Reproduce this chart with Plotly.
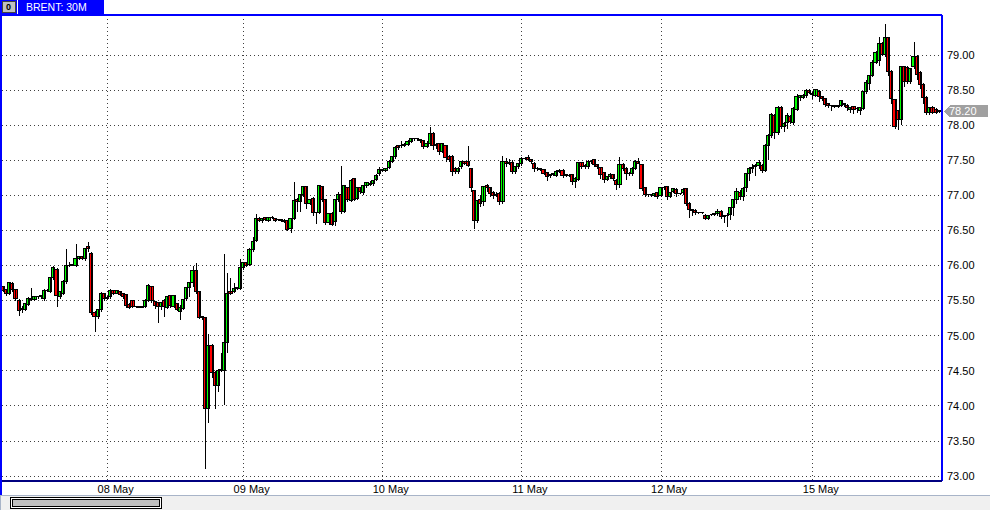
import plotly.graph_objects as go

# BRENT 30-minute bars (one row per trading session)
sessions = ["", "08 May", "09 May", "10 May", "11 May", "12 May", "15 May"]

opens = [
    75.69, 75.65, 75.60, 75.74, 75.65, 75.50, 75.36, 75.37, 75.44, 75.51, 75.51, 75.55, 75.55, 75.52, 75.64, 75.63, 75.82, 75.94, 75.55, 75.60, 75.76, 75.99, 76.00, 76.00, 76.10, 76.12, 76.09, 76.26, 76.17, 75.33, 75.26, 75.36, 75.59,
    75.53, 75.55, 75.64, 75.60, 75.63, 75.59, 75.58, 75.44, 75.49, 75.41, 75.41, 75.40, 75.41, 75.50, 75.69, 75.48, 75.46, 75.41, 75.50, 75.40, 75.56, 75.41, 75.45, 75.34, 75.38, 75.52, 75.68, 75.75, 75.92, 75.62, 75.25, 75.25, 73.95, 74.85, 74.47, 74.28, 74.50, 74.50, 74.90, 75.63, 75.63, 75.67, 75.67,
    75.96, 76.03, 76.01, 76.22, 76.35, 76.66, 76.64, 76.68, 76.64, 76.68, 76.67, 76.65, 76.65, 76.64, 76.64, 76.52, 76.67, 76.93, 76.90, 77.00, 77.12, 76.88, 76.95, 76.75, 76.75, 77.12, 76.93, 76.60, 76.73, 76.62, 76.93, 77.00, 76.77, 77.10, 76.92, 77.23, 76.95, 77.10, 77.03, 77.13, 77.16, 77.16, 77.22, 77.30,
    77.36, 77.35, 77.39, 77.48, 77.54, 77.70, 77.70, 77.71, 77.72, 77.76, 77.80, 77.80, 77.79, 77.77, 77.69, 77.73, 77.87, 77.72, 77.73, 77.62, 77.70, 77.55, 77.55, 77.37, 77.33, 77.40, 77.47, 77.47, 77.37, 77.06, 76.64, 76.93, 76.90, 77.13, 77.10, 77.04, 76.99, 77.02, 76.90, 77.47, 77.45, 77.46, 77.33, 77.40,
    77.44, 77.52, 77.53, 77.50, 77.45, 77.37, 77.37, 77.36, 77.32, 77.27, 77.29, 77.28, 77.34, 77.35, 77.28, 77.28, 77.29, 77.19, 77.22, 77.46, 77.41, 77.40, 77.47, 77.50, 77.43, 77.39, 77.32, 77.22, 77.26, 77.29, 77.21, 77.15, 77.43, 77.37, 77.30, 77.31, 77.38, 77.48, 77.43, 77.10, 77.00, 77.00, 76.99, 77.03,
    76.99, 77.11, 77.12, 76.98, 77.05, 77.08, 77.02, 77.03, 77.09, 76.88, 76.79, 76.78, 76.75, 76.75, 76.71, 76.67, 76.72, 76.72, 76.73, 76.77, 76.69, 76.70, 76.72, 76.82, 76.93, 77.04, 76.97, 77.10, 77.30, 77.37, 77.40, 77.42, 77.42, 77.35, 77.70, 77.84, 78.13, 77.89, 78.25, 77.98, 78.03, 78.12, 78.03, 78.22, 78.39, 78.39, 78.41, 78.49,
    78.45, 78.42, 78.48, 78.40, 78.37, 78.30, 78.27, 78.27, 78.26, 78.28, 78.30, 78.28, 78.22, 78.26, 78.23, 78.20, 78.23, 78.47, 78.58, 78.70, 78.89, 78.92, 79.16, 79.00, 79.24, 78.76, 78.36, 78.20, 78.07, 78.83, 78.82, 78.62, 78.83, 78.97, 78.74, 78.57, 78.39, 78.17, 78.24, 78.22, 78.19,
]
highs = [
    75.71, 75.67, 75.77, 75.76, 75.67, 75.52, 75.42, 75.47, 75.55, 75.68, 75.56, 75.57, 75.58, 75.66, 75.66, 75.84, 75.99, 75.96, 75.64, 75.79, 76.24, 76.05, 76.02, 76.30, 76.14, 76.14, 76.25, 76.33, 76.19, 75.35, 75.38, 75.62, 75.61,
    75.56, 75.66, 75.65, 75.65, 75.64, 75.60, 75.60, 75.46, 75.51, 75.43, 75.42, 75.42, 75.52, 75.74, 75.71, 75.50, 75.48, 75.48, 75.53, 75.57, 75.58, 75.57, 75.47, 75.44, 75.53, 75.70, 75.77, 76.00, 76.04, 75.64, 75.28, 75.27, 75.02, 74.88, 74.50, 74.52, 74.75, 76.17, 75.90, 75.82, 75.75, 75.70, 76.09,
    76.05, 76.05, 76.25, 76.41, 76.73, 76.69, 76.68, 76.69, 76.69, 76.71, 76.68, 76.67, 76.66, 76.66, 76.65, 76.68, 77.19, 76.96, 77.02, 77.14, 77.14, 76.95, 76.97, 76.77, 77.15, 77.14, 76.95, 76.75, 76.76, 76.95, 77.05, 77.42, 77.15, 77.12, 77.23, 77.25, 77.12, 77.12, 77.15, 77.19, 77.20, 77.22, 77.30, 77.40,
    77.38, 77.39, 77.50, 77.56, 77.70, 77.72, 77.78, 77.74, 77.79, 77.82, 77.82, 77.82, 77.81, 77.79, 77.77, 77.97, 77.90, 77.74, 77.75, 77.75, 77.72, 77.57, 77.57, 77.40, 77.40, 77.49, 77.49, 77.70, 77.39, 77.08, 76.94, 77.00, 77.14, 77.16, 77.12, 77.06, 77.05, 77.05, 77.56, 77.53, 77.52, 77.50, 77.42, 77.46,
    77.54, 77.54, 77.58, 77.52, 77.47, 77.40, 77.39, 77.38, 77.34, 77.31, 77.32, 77.36, 77.37, 77.37, 77.30, 77.30, 77.31, 77.26, 77.48, 77.48, 77.44, 77.50, 77.50, 77.52, 77.45, 77.41, 77.34, 77.28, 77.32, 77.31, 77.23, 77.55, 77.46, 77.40, 77.34, 77.40, 77.50, 77.53, 77.45, 77.12, 77.02, 77.02, 77.03, 77.05,
    77.12, 77.13, 77.14, 77.05, 77.11, 77.10, 77.04, 77.11, 77.11, 76.90, 76.81, 76.80, 76.77, 76.77, 76.73, 76.72, 76.74, 76.75, 76.80, 76.79, 76.72, 76.75, 76.84, 76.95, 77.10, 77.07, 77.12, 77.32, 77.40, 77.44, 77.45, 77.50, 77.44, 77.73, 77.88, 78.18, 78.16, 78.27, 78.27, 78.05, 78.18, 78.14, 78.26, 78.45, 78.42, 78.45, 78.51, 78.51,
    78.47, 78.52, 78.50, 78.42, 78.39, 78.32, 78.29, 78.29, 78.29, 78.36, 78.32, 78.30, 78.26, 78.28, 78.26, 78.26, 78.49, 78.64, 78.72, 78.93, 79.06, 79.25, 79.18, 79.44, 79.26, 78.78, 78.38, 78.22, 78.85, 78.85, 78.84, 78.82, 79.18, 79.00, 78.77, 78.60, 78.42, 78.26, 78.27, 78.24, 78.21,
]
lows = [
    75.62, 75.56, 75.58, 75.63, 75.50, 75.28, 75.33, 75.35, 75.42, 75.49, 75.50, 75.53, 75.53, 75.50, 75.62, 75.61, 75.80, 75.41, 75.53, 75.58, 75.74, 75.98, 75.99, 75.98, 76.08, 76.08, 76.07, 76.20, 75.30, 75.05, 75.24, 75.34, 75.50,
    75.51, 75.53, 75.58, 75.59, 75.56, 75.52, 75.40, 75.38, 75.39, 75.39, 75.39, 75.39, 75.40, 75.48, 75.47, 75.38, 75.18, 75.36, 75.27, 75.38, 75.40, 75.39, 75.35, 75.22, 75.36, 75.50, 75.55, 75.70, 75.60, 75.24, 75.23, 73.10, 73.75, 74.40, 73.96, 74.20, 74.48, 74.01, 74.75, 75.58, 75.61, 75.65, 75.65,
    75.94, 75.98, 75.99, 76.20, 76.33, 76.62, 76.60, 76.63, 76.62, 76.66, 76.62, 76.63, 76.62, 76.60, 76.49, 76.47, 76.65, 76.76, 76.76, 76.98, 76.80, 76.86, 76.70, 76.59, 76.73, 76.90, 76.58, 76.58, 76.56, 76.56, 76.90, 76.74, 76.75, 76.90, 76.90, 76.92, 76.93, 77.02, 77.00, 77.11, 77.13, 77.14, 77.20, 77.28,
    77.33, 77.33, 77.37, 77.46, 77.52, 77.64, 77.68, 77.69, 77.70, 77.74, 77.78, 77.78, 77.74, 77.66, 77.67, 77.71, 77.64, 77.66, 77.58, 77.60, 77.48, 77.48, 77.28, 77.30, 77.30, 77.38, 77.43, 77.40, 77.05, 76.52, 76.60, 76.84, 76.85, 77.05, 76.98, 76.95, 76.97, 76.86, 76.88, 77.40, 77.43, 77.30, 77.31, 77.38,
    77.42, 77.50, 77.49, 77.45, 77.34, 77.35, 77.35, 77.29, 77.20, 77.25, 77.27, 77.26, 77.32, 77.25, 77.26, 77.26, 77.15, 77.10, 77.20, 77.38, 77.38, 77.38, 77.45, 77.41, 77.38, 77.24, 77.18, 77.20, 77.24, 77.20, 77.07, 77.10, 77.35, 77.22, 77.28, 77.27, 77.36, 77.44, 77.06, 76.97, 76.97, 76.98, 76.97, 76.95,
    76.97, 77.08, 76.93, 76.96, 77.03, 76.98, 77.00, 77.01, 76.85, 76.68, 76.70, 76.72, 76.73, 76.73, 76.65, 76.65, 76.70, 76.70, 76.71, 76.66, 76.60, 76.55, 76.65, 76.70, 76.88, 76.93, 76.92, 77.05, 77.20, 77.32, 77.28, 77.38, 77.32, 77.33, 77.50, 77.82, 77.80, 77.86, 77.95, 77.90, 77.95, 78.01, 78.00, 78.20, 78.35, 78.37, 78.39, 78.44,
    78.38, 78.40, 78.33, 78.34, 78.26, 78.24, 78.20, 78.24, 78.24, 78.26, 78.26, 78.20, 78.18, 78.16, 78.18, 78.15, 78.21, 78.45, 78.50, 78.68, 78.87, 78.85, 78.98, 78.97, 78.70, 78.30, 77.95, 77.93, 78.00, 78.55, 78.58, 78.58, 78.80, 78.65, 78.52, 78.30, 78.15, 78.15, 78.16, 78.16, 78.18,
]
closes = [
    75.64, 75.60, 75.75, 75.65, 75.52, 75.35, 75.38, 75.45, 75.52, 75.52, 75.55, 75.55, 75.56, 75.64, 75.64, 75.82, 75.96, 75.56, 75.62, 75.76, 75.99, 76.00, 76.00, 76.10, 76.12, 76.09, 76.23, 76.23, 75.33, 75.26, 75.36, 75.60, 75.53,
    75.54, 75.64, 75.60, 75.64, 75.58, 75.55, 75.42, 75.40, 75.41, 75.41, 75.40, 75.41, 75.50, 75.71, 75.49, 75.42, 75.41, 75.46, 75.41, 75.55, 75.42, 75.56, 75.37, 75.40, 75.51, 75.68, 75.75, 75.92, 75.62, 75.25, 75.27, 73.96, 74.86, 74.47, 74.28, 74.50, 74.51, 74.90, 75.60, 75.60, 75.67, 75.67, 75.96,
    76.03, 76.00, 76.22, 76.34, 76.67, 76.64, 76.67, 76.65, 76.68, 76.68, 76.64, 76.65, 76.63, 76.62, 76.51, 76.67, 76.92, 76.90, 77.00, 77.12, 76.88, 76.93, 76.75, 76.75, 77.13, 76.93, 76.60, 76.73, 76.58, 76.93, 77.00, 76.76, 77.13, 76.93, 77.21, 76.94, 77.10, 77.05, 77.13, 77.17, 77.15, 77.20, 77.28, 77.36,
    77.35, 77.37, 77.48, 77.54, 77.68, 77.68, 77.70, 77.71, 77.76, 77.80, 77.80, 77.80, 77.77, 77.69, 77.73, 77.88, 77.70, 77.70, 77.62, 77.73, 77.53, 77.51, 77.33, 77.33, 77.37, 77.47, 77.45, 77.42, 77.10, 76.64, 76.92, 76.88, 77.12, 77.10, 77.02, 76.99, 77.01, 76.90, 77.47, 77.45, 77.46, 77.33, 77.40, 77.44,
    77.52, 77.52, 77.50, 77.47, 77.37, 77.37, 77.36, 77.31, 77.26, 77.29, 77.30, 77.33, 77.34, 77.28, 77.28, 77.27, 77.19, 77.24, 77.46, 77.41, 77.41, 77.47, 77.47, 77.43, 77.40, 77.29, 77.22, 77.26, 77.29, 77.23, 77.15, 77.43, 77.38, 77.30, 77.31, 77.38, 77.47, 77.45, 77.09, 77.01, 77.00, 77.00, 77.02, 76.98,
    77.10, 77.10, 76.98, 77.03, 77.09, 77.02, 77.02, 77.08, 76.88, 76.79, 76.78, 76.75, 76.75, 76.75, 76.67, 76.71, 76.72, 76.73, 76.76, 76.69, 76.70, 76.71, 76.82, 76.93, 77.05, 76.97, 77.09, 77.30, 77.37, 77.39, 77.42, 77.46, 77.35, 77.70, 77.84, 78.14, 77.89, 78.25, 77.98, 78.02, 78.13, 78.04, 78.23, 78.40, 78.41, 78.42, 78.49, 78.46,
    78.43, 78.50, 78.40, 78.37, 78.29, 78.27, 78.27, 78.26, 78.28, 78.34, 78.29, 78.24, 78.25, 78.22, 78.23, 78.25, 78.47, 78.60, 78.70, 78.89, 79.03, 79.16, 79.00, 79.24, 78.76, 78.37, 77.97, 78.08, 78.83, 78.62, 78.62, 78.80, 78.97, 78.72, 78.57, 78.39, 78.17, 78.24, 78.18, 78.18, 78.20,
]
bars_per_session = [33, 43, 44, 44, 44, 48, 41]

price_ticks = [73.0, 73.5, 74.0, 74.5, 75.0, 75.5, 76.0, 76.5, 77.0, 77.5, 78.0, 78.5, 79.0]
last_price = closes[-1]

n = len(closes)
bars = list(range(n))

# index of the first bar of each dated session
day_starts = []
start = 0
for name, count in zip(sessions, bars_per_session):
    if name:
        day_starts.append(start)
    start += count
day_labels = [s for s in sessions if s]

FONT = "Liberation Sans"
BLUE = "#0000ff"
NAVY = "#000080"
GRID = "#404040"

# wicks: one vertical segment per bar
wick_x, wick_y = [], []
for i in bars:
    wick_x += [i, i, None]
    wick_y += [lows[i], highs[i], None]

# bodies: bars from open to close (flat bodies kept visible as a thin line)
body_base = [min(o, c) for o, c in zip(opens, closes)]
body_len = [max(abs(c - o), 0.004) for o, c in zip(opens, closes)]
body_col = ["#00ff00" if c >= o else "#ff0000" for o, c in zip(opens, closes)]

fig = go.Figure()
fig.add_trace(go.Scatter(x=wick_x, y=wick_y, mode="lines",
                         line=dict(color="black", width=1),
                         hoverinfo="skip", showlegend=False))
fig.add_trace(go.Bar(x=bars, y=body_len, base=body_base, width=1.0,
                     marker=dict(color=body_col, line=dict(color="black", width=1)),
                     hoverinfo="skip", showlegend=False))

fig.update_layout(
    width=990, height=510,
    margin=dict(l=2, r=48, t=15, b=29),
    paper_bgcolor="white", plot_bgcolor="white",
    font=dict(family=FONT, size=11, color="black"),
    showlegend=False,
    bargap=0,
    xaxis=dict(
        range=[-0.41, n - 1 + 0.85],
        tickmode="array", tickvals=day_starts, ticktext=day_labels,
        showgrid=True, gridcolor=GRID, gridwidth=1, griddash="1px,3px",
        ticks="", ticklabelshift=8, ticklabelstandoff=0,
        zeroline=False, showline=False,
        tickfont=dict(family=FONT, size=11, color="black"),
    ),
    yaxis=dict(
        range=[72.93, 79.57],
        side="right",
        tickmode="array", tickvals=price_ticks,
        ticktext=["%.2f" % v for v in price_ticks],
        showgrid=True, gridcolor=GRID, gridwidth=1, griddash="1px,3px",
        ticks="", ticklabelstandoff=4,
        zeroline=False, showline=False,
        tickfont=dict(family=FONT, size=11, color="black"),
    ),
)

shapes = []
# chart frame
shapes.append(dict(type="line", xref="paper", yref="paper", x0=0, x1=1, y0=1, y1=1,
                   line=dict(color=BLUE, width=1.5)))
shapes.append(dict(type="line", xref="paper", yref="paper", x0=1, x1=1, y0=0, y1=1,
                   line=dict(color=BLUE, width=1.5)))
shapes.append(dict(type="line", xref="paper", yref="paper", x0=0, x1=1, y0=0, y1=0,
                   line=dict(color=NAVY, width=1.5)))
shapes.append(dict(type="rect", xref="paper", xsizemode="pixel", xanchor=0, x0=-2, x1=0,
                   yref="paper", y0=-0.04, y1=1.04, fillcolor=BLUE, line=dict(width=0)))
# title tab
shapes.append(dict(type="rect", xref="paper", xsizemode="pixel", xanchor=0, x0=-2, x1=102,
                   yref="paper", ysizemode="pixel", yanchor=1, y0=0, y1=15,
                   fillcolor=BLUE, line=dict(width=0)))
shapes.append(dict(type="rect", xref="paper", xsizemode="pixel", xanchor=0, x0=0, x1=13,
                   yref="paper", ysizemode="pixel", yanchor=1, y0=3, y1=14,
                   fillcolor="#c0c0c0", line=dict(color="#404040", width=1)))
shapes.append(dict(type="line", xref="paper", xsizemode="pixel", xanchor=0, x0=15, x1=15,
                   yref="paper", ysizemode="pixel", yanchor=1, y0=1, y1=15,
                   line=dict(color="white", width=1)))
# last price marker
shapes.append(dict(type="path", xref="paper", xsizemode="pixel", xanchor=1,
                   yref="y", ysizemode="pixel", yanchor=last_price,
                   path="M 2,0 L 8,6 L 46,6 L 46,-6 L 8,-6 Z",
                   fillcolor="#a0a0a0", line=dict(width=0)))
# scrollbar strip
shapes.append(dict(type="rect", xref="paper", xsizemode="pixel", xanchor=0, x0=-2, x1=988,
                   yref="paper", ysizemode="pixel", yanchor=0, y0=-14, y1=-30,
                   fillcolor="#f0f0f0", line=dict(color="#a8b4c8", width=1)))
shapes.append(dict(type="rect", xref="paper", xsizemode="pixel", xanchor=0, x0=8, x1=159,
                   yref="paper", ysizemode="pixel", yanchor=0, y0=-16, y1=-27,
                   fillcolor="white", line=dict(color="black", width=1)))
shapes.append(dict(type="rect", xref="paper", xsizemode="pixel", xanchor=0, x0=10, x1=157,
                   yref="paper", ysizemode="pixel", yanchor=0, y0=-18, y1=-25,
                   fillcolor="#c0c0c0", line=dict(color="black", width=1)))
fig.update_layout(shapes=shapes)

fig.add_annotation(text="BRENT: 30M", xref="paper", yref="paper", x=0, y=1,
                   xanchor="left", yanchor="bottom", xshift=22, yshift=0,
                   showarrow=False, font=dict(family=FONT, size=10.5, color="white"))
fig.add_annotation(text="<b>0</b>", xref="paper", yref="paper", x=0, y=1,
                   xanchor="center", yanchor="bottom", xshift=6.5, yshift=1,
                   showarrow=False, font=dict(family=FONT, size=9, color="black"))
fig.add_annotation(text="%.2f" % last_price, xref="paper", yref="y", x=1, y=last_price,
                   xanchor="left", yanchor="middle", xshift=5,
                   showarrow=False, font=dict(family=FONT, size=11, color="white"))

# no page margin and pixel-sharp lines, like the terminal screenshot
page_js = (
    "document.body.style.margin='0';"
    "document.querySelectorAll('svg.main-svg').forEach(function(s){"
    "s.style.shapeRendering='crispEdges';});"
)
fig.write_html("out.html", config={"displayModeBar": False}, post_script=page_js)
